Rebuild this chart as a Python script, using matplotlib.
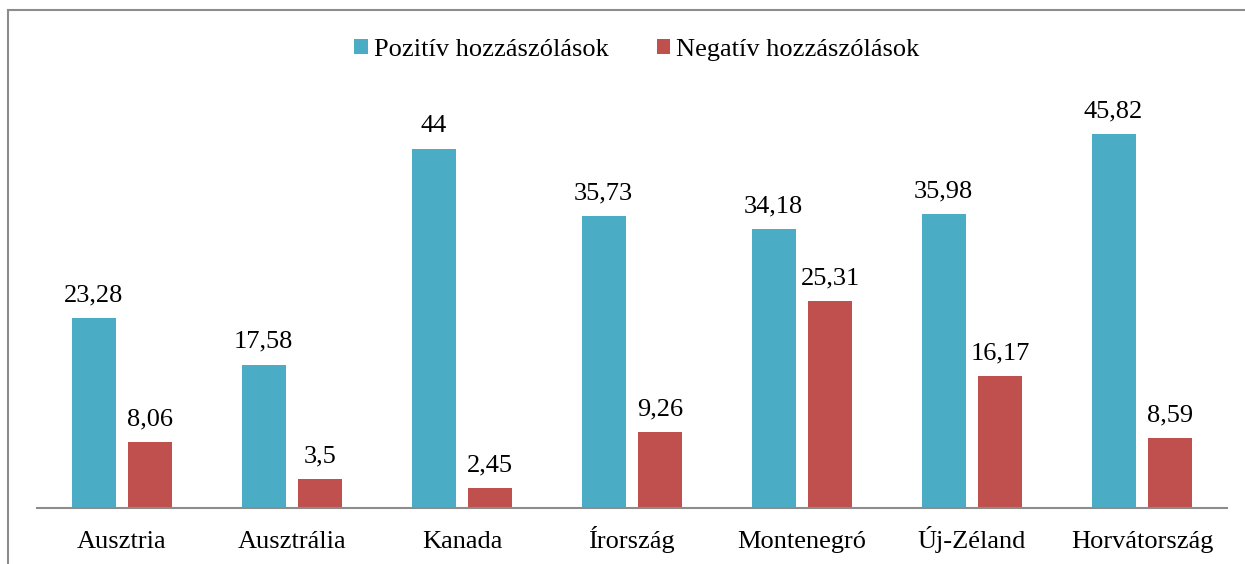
import matplotlib.pyplot as plt
import numpy as np
from matplotlib.patches import Rectangle

countries = ['Ausztria', 'Ausztrália', 'Kanada', 'Írország', 'Montenegró', 'Új-Zéland', 'Horvátország']
positive = [23.28, 17.58, 44, 35.73, 34.18, 35.98, 45.82]
negative = [8.06, 3.5, 2.45, 9.26, 25.31, 16.17, 8.59]
series_names = ['Pozitív hozzászólások', 'Negatív hozzászólások']

blue = '#4BACC6'
red = '#C0504D'
plt.rcParams['font.family'] = ['Liberation Serif', 'DejaVu Serif']

fig = plt.figure(figsize=(12.45, 5.64), dpi=100)
W, H = 1245, 564
ax = fig.add_axes([37 / W, 1 - 508 / H, (1227 - 37) / W, 408 / H])

# outer frame, cut off at right and bottom like the original
fig.patches.append(Rectangle((8 / W, -0.1), 1.2, 1 - 10 / H + 0.1, transform=fig.transFigure,
                             fill=False, edgecolor='#8c8c8c', linewidth=1.5))

x = np.arange(len(countries))
w = 0.26
b1 = ax.bar(x - 0.167, positive, w, color=blue, label=series_names[0])
b2 = ax.bar(x + 0.165, negative, w, color=red, label=series_names[1])

for bars, vals in ((b1, positive), (b2, negative)):
    for r, v in zip(bars, vals):
        txt = f'{v:g}'.replace('.', ',')
        ax.annotate(txt, (r.get_x() + r.get_width() / 2, v), xytext=(0, 12),
                    textcoords='offset points', ha='center', va='baseline', fontsize=19)

ax.set_xlim(-0.5, len(countries) - 0.5)
ax.set_ylim(0, 50)
ax.set_xticks(x)
ax.set_xticklabels(countries, fontsize=19)
# same baseline for all labels, accents or not
ax.tick_params(axis='x', length=0, pad=29)
for lbl in ax.get_xticklabels():
    lbl.set_verticalalignment('baseline')
ax.set_yticks([])
for s in ('top', 'right', 'left'):
    ax.spines[s].set_visible(False)
ax.spines['bottom'].set_color('#8c8c8c')
ax.spines['bottom'].set_linewidth(1.5)

fig.legend(loc='center', bbox_to_anchor=(637 / W, 1 - 50 / H), ncol=2, frameon=False,
           fontsize=19, handlelength=0.5, handleheight=0.5, handletextpad=0.25, columnspacing=1.8)

fig.savefig('out.png', dpi=100)
